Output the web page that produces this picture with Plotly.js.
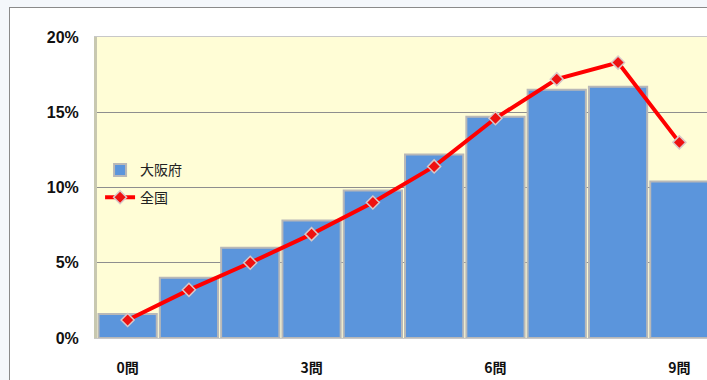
<!DOCTYPE html>
<html>
<head>
<meta charset="utf-8">
<script src="https://cdn.plot.ly/plotly-3.0.1.min.js"></script>
<style>
html,body{margin:0;padding:0;overflow:hidden;background:#f4f7fb;}
#frame{position:absolute;left:9px;top:7px;width:740px;height:390px;border:1px solid #8a8a8a;background:#ffffff;overflow:hidden;}
#chart{position:absolute;left:0;top:0;}
</style>
</head>
<body>
<div id="frame"><div id="chart"></div></div>
<script>
const categories = ['0問','1問','2問','3問','4問','5問','6問','7問','8問','9問'];
const osakaValues = [0.016, 0.040, 0.060, 0.078, 0.098, 0.122, 0.147, 0.165, 0.167, 0.104];
const nationalValues = [0.012, 0.032, 0.050, 0.069, 0.090, 0.114, 0.146, 0.172, 0.183, 0.130];
const xTickVals = ['0問','3問','6問','9問'];
const yTickVals = [0, 0.05, 0.10, 0.15, 0.20];
const yTickText = ['0%','5%','10%','15%','20%'];
const seriesNames = ['大阪府','全国'];

const font = 'Liberation Sans, Arial, sans-serif';
const cjk = '"Noto Sans CJK JP", sans-serif';

const traces = [
  {
    type: 'bar', name: seriesNames[0], x: categories, y: osakaValues, legendgroup: 'a',
    marker: {color: '#5b95dc', line: {color: '#b8b8b8', width: 2}},
    hoverinfo: 'skip'
  },
  {
    type: 'scatter', mode: 'lines+markers', name: seriesNames[1], x: categories, y: nationalValues, legendgroup: 'b',
    line: {color: '#ff0000', width: 4},
    marker: {symbol: 'diamond', size: 10, color: '#ee1111', line: {color: '#d8c8c8', width: 1.5}},
    hoverinfo: 'skip'
  }
];

const layout = {
  width: 720, height: 372,
  margin: {l: 87, r: 20, t: 29, b: 42},
  paper_bgcolor: '#ffffff',
  plot_bgcolor: '#fffdd6',
  bargap: 0.05,
  showlegend: true,
  legend: {
    x: 0.005, y: 0.61, xanchor: 'left', yanchor: 'top',
    bgcolor: 'rgba(0,0,0,0)', font: {family: cjk, size: 14, color: '#222'},
    itemwidth: 30, tracegroupgap: 6
  },
  xaxis: {
    type: 'category', range: [-0.5, 9.5],
    tickvals: xTickVals, ticktext: xTickVals,
    ticks: 'outside', ticklen: 17, tickcolor: 'rgba(0,0,0,0)',
    tickfont: {family: cjk, size: 14, color: '#111', weight: 'bold'},
    showgrid: false, showline: true, linecolor: '#c8c8c8', linewidth: 1, mirror: true,
    zeroline: false
  },
  yaxis: {
    range: [0, 0.20],
    tickvals: yTickVals, ticktext: yTickText,
    ticks: 'outside', ticklen: 12, tickcolor: 'rgba(0,0,0,0)',
    tickfont: {family: font, size: 16, color: '#111', weight: 'bold'},
    showgrid: true, gridcolor: '#8e8e8e', gridwidth: 1,
    showline: true, linecolor: '#c8c8b0', linewidth: 3, mirror: true,
    zeroline: false
  }
};

Plotly.newPlot('chart', traces, layout, {displayModeBar: false, staticPlot: true});
</script>
</body>
</html>
